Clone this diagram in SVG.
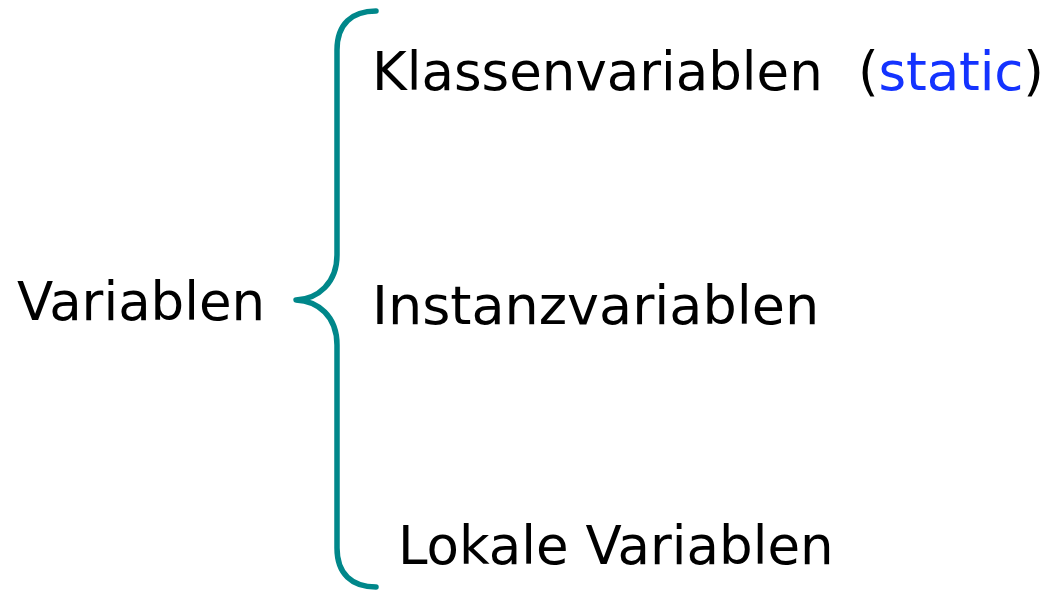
<svg xmlns="http://www.w3.org/2000/svg" width="1053" height="590" viewBox="0 0 1053 590">
  <style>
    .lbl { font-family: "DejaVu Sans", Verdana, sans-serif; font-size: 53px; fill: #000; }
    .kw { fill: #1433ff; }
    .brace { fill: none; stroke: #00878a; stroke-width: 5.5; stroke-linecap: round; stroke-linejoin: round; }
  </style>
  <rect width="1053" height="590" fill="#fff"/>

  <g id="root">
    <text class="lbl" x="17" y="320">Variablen</text>
  </g>

  <g id="connectors">
    <path class="brace" d="M376,11 C352,11 337,24 337,50 L337,255 C337,283 318,299 296,300 C318,301 337,316 337,345 L337,548 C337,574 352,587 376,587"/>
  </g>

  <g id="klassenvariablen">
    <text class="lbl" x="372" y="90">Klassenvariablen</text>
    <text class="lbl" x="858" y="90" textLength="186">(<tspan class="kw">static</tspan>)</text>
  </g>

  <g id="instanzvariablen">
    <text class="lbl" x="372" y="324" style="font-size:54px">Instanzvariablen</text>
  </g>

  <g id="lokale-variablen">
    <text class="lbl" x="398" y="564">Lokale Variablen</text>
  </g>
</svg>
